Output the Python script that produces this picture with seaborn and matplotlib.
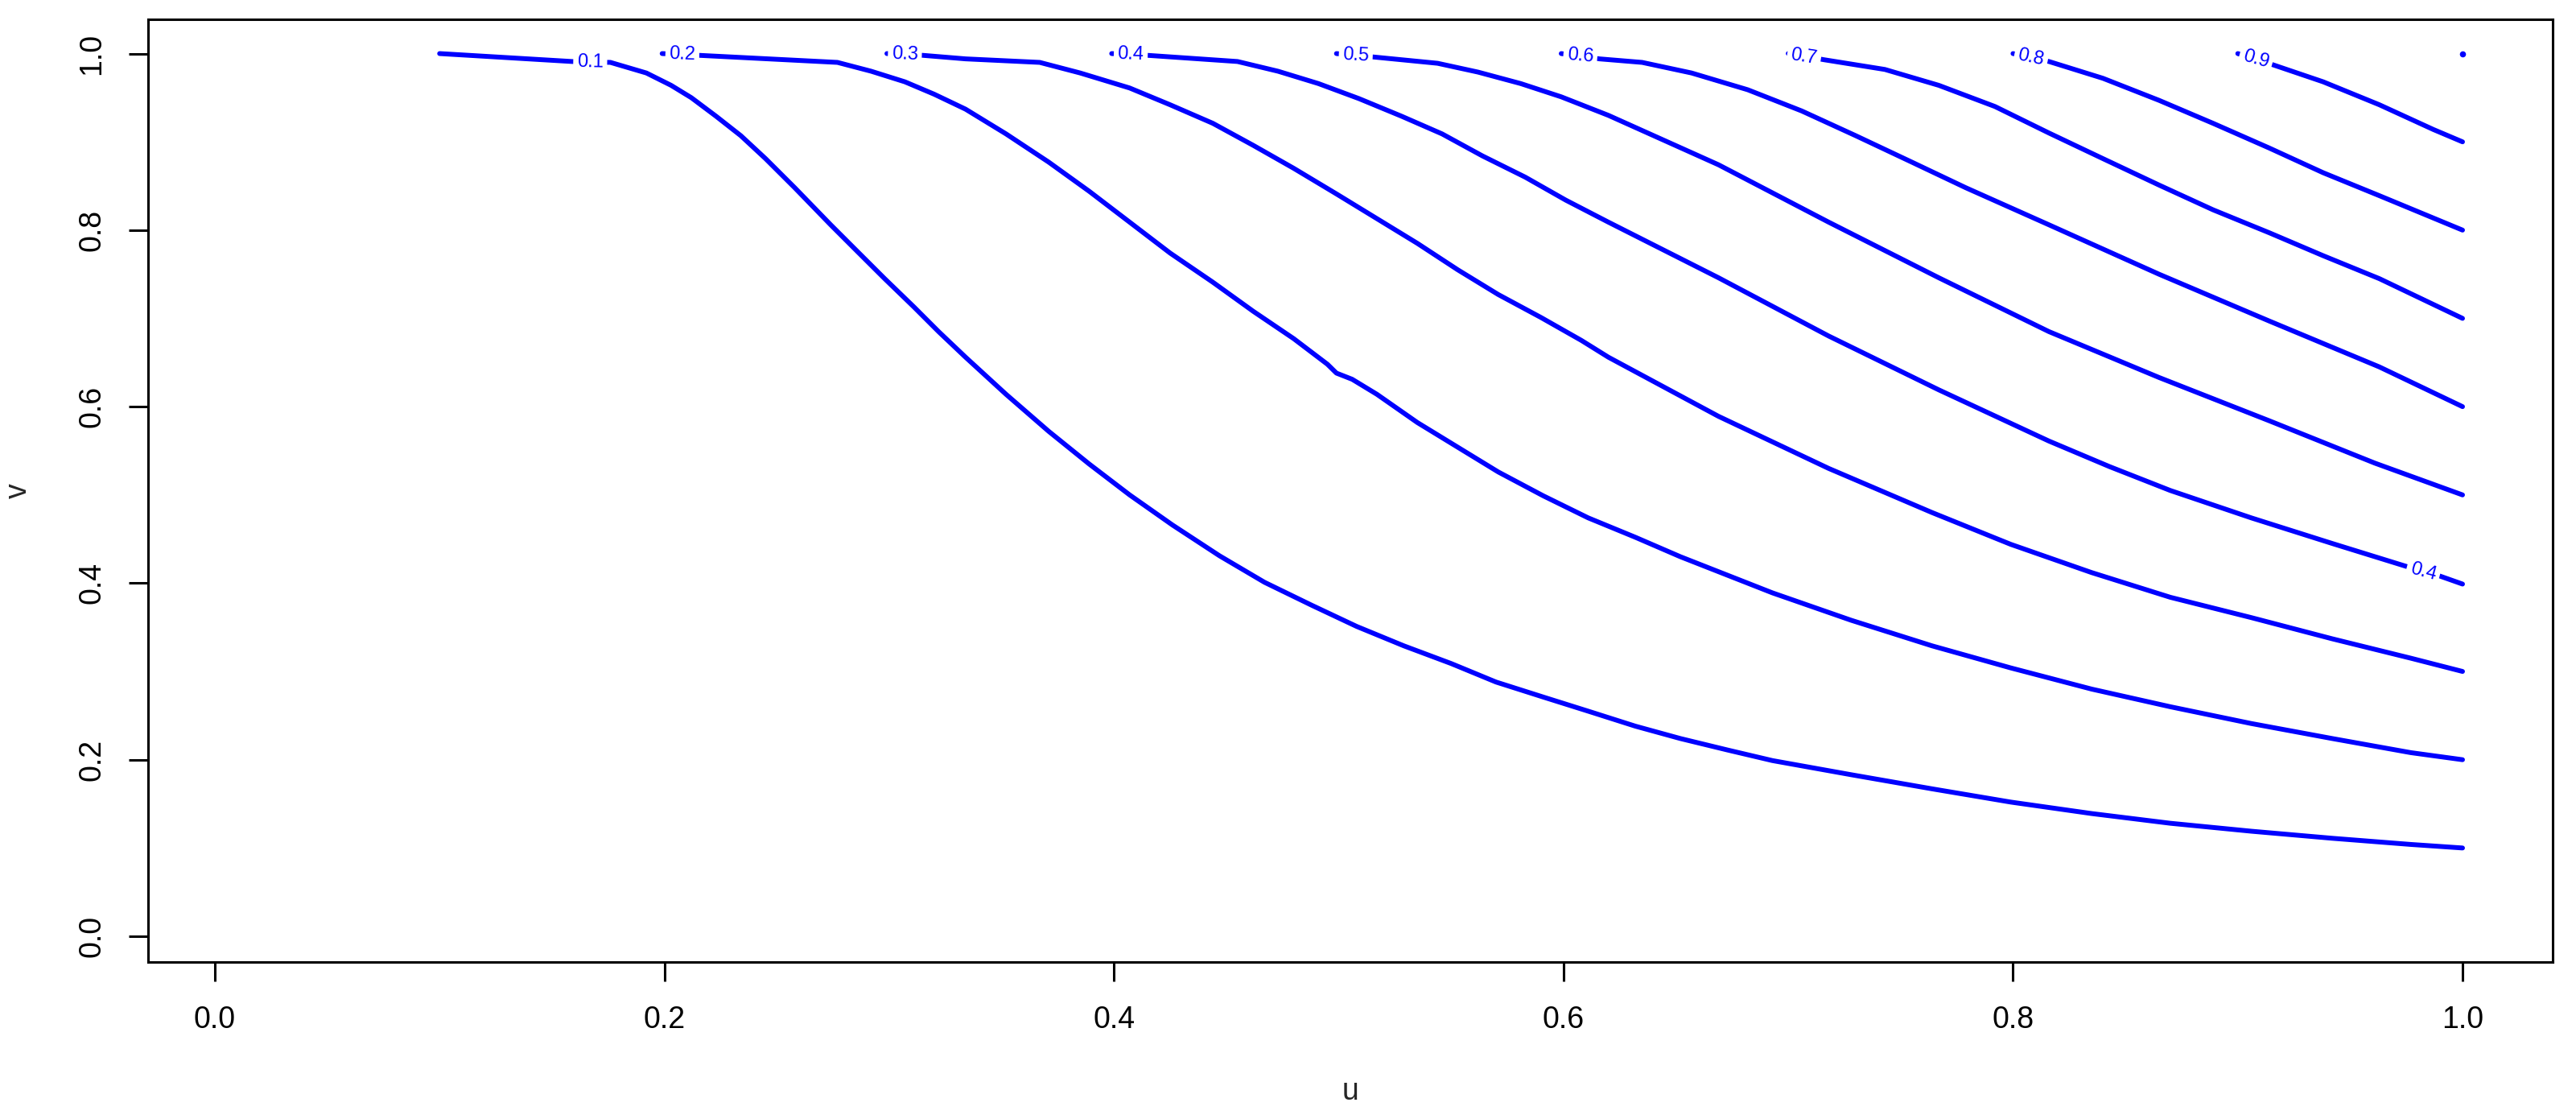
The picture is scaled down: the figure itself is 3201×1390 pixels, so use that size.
import pandas as pd
import matplotlib
matplotlib.use("Agg")
import matplotlib.pyplot as plt
import seaborn as sns

# -----------------------------
# Contour lines (u, v per level)
# -----------------------------

levels = [0.1, 0.2, 0.3, 0.4, 0.5, 0.6, 0.7, 0.8, 0.9]

u_01 = [0.100, 0.159, 0.176, 0.192, 0.203, 0.212, 0.223, 0.234, 0.245, 0.258,
        0.274, 0.285, 0.298, 0.311, 0.322, 0.334, 0.352, 0.371, 0.389, 0.407,
        0.426, 0.447, 0.467, 0.488, 0.508, 0.529, 0.550, 0.570, 0.591, 0.611,
        0.632, 0.652, 0.673, 0.693, 0.728, 0.764, 0.799, 0.835, 0.870, 0.906,
        0.942, 0.977, 1.000]
v_01 = [1.000, 0.991, 0.990, 0.978, 0.964, 0.950, 0.929, 0.907, 0.881, 0.848,
        0.806, 0.778, 0.745, 0.713, 0.685, 0.656, 0.614, 0.572, 0.535, 0.500,
        0.466, 0.431, 0.401, 0.375, 0.351, 0.329, 0.309, 0.288, 0.271, 0.255,
        0.238, 0.224, 0.211, 0.199, 0.183, 0.167, 0.152, 0.139, 0.128, 0.119,
        0.111, 0.104, 0.100]

u_02 = [0.199, 0.2155, 0.277, 0.292, 0.307, 0.320, 0.334, 0.352, 0.371, 0.389,
        0.407, 0.425, 0.444, 0.462, 0.480, 0.495, 0.499, 0.506, 0.517, 0.535,
        0.553, 0.571, 0.591, 0.611, 0.632, 0.652, 0.673, 0.693, 0.728, 0.764,
        0.799, 0.835, 0.870, 0.906, 0.942, 0.977, 1.000]
v_02 = [1.000, 0.998, 0.990, 0.980, 0.968, 0.954, 0.937, 0.909, 0.877, 0.844,
        0.809, 0.774, 0.741, 0.708, 0.677, 0.648, 0.638, 0.631, 0.614, 0.582,
        0.554, 0.526, 0.499, 0.474, 0.452, 0.430, 0.409, 0.389, 0.358, 0.329,
        0.304, 0.280, 0.260, 0.241, 0.224, 0.208, 0.200]

u_03 = [0.299, 0.315, 0.334, 0.367, 0.385, 0.407, 0.425, 0.444, 0.462, 0.480,
        0.499, 0.517, 0.535, 0.553, 0.571, 0.590, 0.608, 0.620, 0.669, 0.718,
        0.764, 0.799, 0.835, 0.870, 0.906, 0.942, 0.977, 1.000]
v_03 = [1.000, 0.998, 0.994, 0.990, 0.978, 0.961, 0.942, 0.921, 0.896, 0.870,
        0.841, 0.813, 0.785, 0.755, 0.727, 0.701, 0.675, 0.656, 0.589, 0.530,
        0.480, 0.444, 0.412, 0.384, 0.361, 0.337, 0.315, 0.300]

u_04 = [0.399, 0.415, 0.455, 0.473, 0.491, 0.509, 0.528, 0.546, 0.564, 0.583,
        0.601, 0.620, 0.669, 0.718, 0.767, 0.816, 0.843, 0.870, 0.906, 0.942,
        0.975, 0.990, 1.000]
v_04 = [1.000, 0.998, 0.991, 0.980, 0.966, 0.949, 0.929, 0.909, 0.884, 0.860,
        0.834, 0.809, 0.746, 0.680, 0.619, 0.561, 0.532, 0.505, 0.474, 0.445,
        0.419, 0.408, 0.399]

u_05 = [0.499, 0.516, 0.544, 0.562, 0.581, 0.599, 0.620, 0.669, 0.718, 0.767,
        0.816, 0.865, 0.914, 0.961, 1.000]
v_05 = [1.000, 0.996, 0.989, 0.979, 0.966, 0.951, 0.930, 0.874, 0.809, 0.746,
        0.685, 0.633, 0.584, 0.536, 0.500]

u_06 = [0.599, 0.616, 0.635, 0.657, 0.682, 0.706, 0.730, 0.755, 0.779, 0.816,
        0.865, 0.914, 0.963, 1.000]
v_06 = [1.000, 0.994, 0.990, 0.978, 0.959, 0.935, 0.907, 0.877, 0.848, 0.806,
        0.750, 0.697, 0.645, 0.600]

u_07 = [0.700, 0.716, 0.743, 0.767, 0.792, 0.816, 0.840, 0.865, 0.889, 0.914,
        0.938, 0.963, 1.000]
v_07 = [1.000, 0.993, 0.982, 0.964, 0.940, 0.910, 0.881, 0.851, 0.823, 0.797,
        0.771, 0.745, 0.700]

u_08 = [0.800, 0.816, 0.840, 0.865, 0.889, 0.914, 0.938, 0.963, 1.000]
v_08 = [1.000, 0.991, 0.972, 0.947, 0.921, 0.893, 0.865, 0.839, 0.800]

u_09 = [0.900, 0.916, 0.938, 0.963, 0.987, 1.000]
v_09 = [1.000, 0.987, 0.968, 0.942, 0.914, 0.900]

# level 1.0 only shows up as a dot in the corner
u_10 = [1.000]
v_10 = [1.000]

# contour labels (text, u, v, angle)
label_text = ["0.1", "0.2", "0.3", "0.4", "0.5", "0.6", "0.7", "0.8", "0.9", "0.4"]
label_u = [0.167, 0.208, 0.307, 0.4075, 0.5076, 0.6075, 0.707, 0.808, 0.908, 0.9825]
label_v = [0.990, 0.999, 0.999, 0.999, 0.998, 0.997, 0.996, 0.995, 0.993, 0.413]
label_rot = [-1, -2, -2, -2, -3, -5, -9, -12, -16, -15]

xticks = [0.0, 0.2, 0.4, 0.6, 0.8, 1.0]
yticks = [0.0, 0.2, 0.4, 0.6, 0.8, 1.0]

# -----------------------------
# Build long table
# -----------------------------

us = [u_01, u_02, u_03, u_04, u_05, u_06, u_07, u_08, u_09]
vs = [v_01, v_02, v_03, v_04, v_05, v_06, v_07, v_08, v_09]

rows = []
for lev, uu, vv in zip(levels, us, vs):
    for a, b in zip(uu, vv):
        rows.append({"u": a, "v": b, "level": lev})
df = pd.DataFrame(rows)

# -----------------------------
# Plot
# -----------------------------

sns.set_style("white")
plt.rcParams["font.family"] = ["Liberation Sans", "DejaVu Sans"]

fig = plt.figure(figsize=(32.01, 13.90), dpi=100)
ax = fig.add_axes([184 / 3201, 1 - 1195 / 1390, (3172 - 184) / 3201, (1195 - 24) / 1390])

sns.lineplot(
    data=df, x="u", y="v", units="level", estimator=None, sort=False,
    color="#0000FF", linewidth=4.3, solid_capstyle="round",
    solid_joinstyle="round", ax=ax
)
ax.scatter(u_10, v_10, s=30, color="#0000FF", zorder=3, linewidths=0)

for t, x, y, r in zip(label_text, label_u, label_v, label_rot):
    ax.text(
        x, y, t, color="#0000FF", fontsize=17, ha="center", va="center",
        rotation=r, rotation_mode="anchor", zorder=4,
        bbox=dict(boxstyle="square,pad=0.2", fc="white", ec="none")
    )

ax.set_xlim(-0.0297, 1.0401)
ax.set_ylim(-0.0292, 1.0388)

ax.set_xticks(xticks)
ax.set_xticklabels([f"{t:.1f}" for t in xticks])
ax.set_yticks(yticks)
ax.set_yticklabels([f"{t:.1f}" for t in yticks], rotation=90, va="center")

ax.tick_params(direction="out", length=17, width=2.2, labelsize=27,
               color="black", labelcolor="black", bottom=True, left=True)
ax.tick_params(axis="x", pad=22)
ax.tick_params(axis="y", pad=20)

for sp in ax.spines.values():
    sp.set_visible(True)
    sp.set_color("black")
    sp.set_linewidth(2.2)

ax.set_xlabel("u", fontsize=27, labelpad=38)
ax.set_ylabel("v", fontsize=27, labelpad=40)
ax.grid(False)

fig.savefig("out.png", dpi=100, facecolor="white")
